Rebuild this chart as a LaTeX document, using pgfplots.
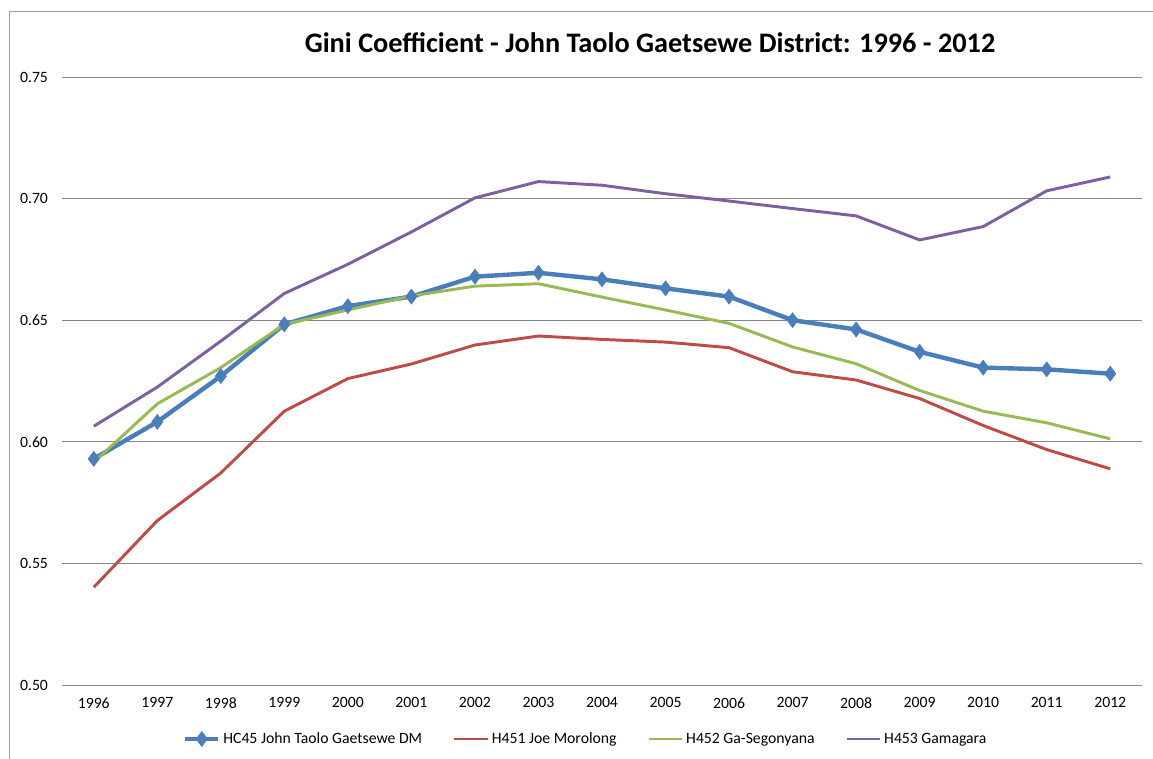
\documentclass[border=0pt]{standalone}
\usepackage{pgfplots}
\pgfplotsset{compat=1.18}
\usepackage{fontspec}
\setmainfont{Carlito}
\definecolor{cblue}{HTML}{4A7EBB}
\definecolor{cred}{HTML}{BE4B48}
\definecolor{cgreen}{HTML}{98B954}
\definecolor{cpurple}{HTML}{7D60A0}
\definecolor{cgrid}{HTML}{868686}
\begin{document}
\begin{tikzpicture}
\useasboundingbox (-46.5pt,-54.75pt) rectangle (818.25pt,513.75pt);
\draw[cgrid!80, line width=0.75pt] (-39pt,-60pt) -- (-39pt,504.75pt) -- (830pt,504.75pt);
\begin{axis}[
  scale only axis, width=810pt, height=456pt,
  xmin=-0.5, xmax=16.5, ymin=0.5, ymax=0.75,
  xtick={0,...,16},
  xticklabels={1996,1997,1998,1999,2000,2001,2002,2003,2004,2005,2006,2007,2008,2009,2010,2011,2012},
  ytick={0.5,0.55,0.6,0.65,0.7,0.75},
  yticklabel style={/pgf/number format/fixed,/pgf/number format/precision=2,/pgf/number format/fixed zerofill, xshift=-7pt},
  /pgf/number format/assume math mode=true,
  xticklabel style={yshift=-6pt},
  major tick length=0pt,
  tick label style={font=\fontsize{11.8}{14}\selectfont},
  axis line style={draw=none},
  ymajorgrids, major grid style={cgrid, line width=0.75pt},
  legend columns=4,
  legend style={draw=none, at={(393pt,-40.5pt)}, anchor=center, font=\fontsize{11.8}{14}\selectfont,
    /tikz/every odd column/.append style={column sep=0pt},
    /tikz/every even column/.append style={column sep=21pt}},
  legend image code/.code={\draw[#1] (0pt,0pt) -- (25pt,0pt); \draw[#1,mark repeat=2,mark phase=2] plot coordinates {(0pt,0pt) (12.5pt,0pt) (25pt,0pt)};},
  clip=false,
]
\addplot[cblue, line width=3.3pt, mark=diamond*, mark size=5.5pt, mark options={line width=0.6pt}] coordinates {
(0,0.593)(1,0.6082)(2,0.627)(3,0.6483)(4,0.6558)(5,0.6597)(6,0.6679)(7,0.6695)(8,0.6668)(9,0.6631)(10,0.6597)(11,0.650)(12,0.6462)(13,0.637)(14,0.6305)(15,0.6298)(16,0.628)};
\addlegendentry{HC45 John Taolo Gaetsewe DM}
\addplot[cred, line width=2.2pt, mark=none] coordinates {
(0,0.5402)(1,0.5676)(2,0.5872)(3,0.6126)(4,0.626)(5,0.632)(6,0.6398)(7,0.6435)(8,0.6421)(9,0.641)(10,0.6387)(11,0.6288)(12,0.6254)(13,0.6178)(14,0.6067)(15,0.5968)(16,0.5889)};
\addlegendentry{H451 Joe Morolong}
\addplot[cgreen, line width=2.2pt, mark=none] coordinates {
(0,0.5916)(1,0.6156)(2,0.6305)(3,0.6483)(4,0.6542)(5,0.66)(6,0.664)(7,0.665)(8,0.6595)(9,0.6542)(10,0.6487)(11,0.639)(12,0.6321)(13,0.6211)(14,0.6126)(15,0.6078)(16,0.6012)};
\addlegendentry{H452 Ga-Segonyana}
\addplot[cpurple, line width=2.2pt, mark=none] coordinates {
(0,0.6064)(1,0.6225)(2,0.6414)(3,0.661)(4,0.673)(5,0.6863)(6,0.7003)(7,0.707)(8,0.7055)(9,0.702)(10,0.699)(11,0.6959)(12,0.6929)(13,0.683)(14,0.6885)(15,0.7032)(16,0.7089)};
\addlegendentry{H453 Gamagara}
\end{axis}
\node[font=\fontsize{21.2}{25}\selectfont\bfseries] at (441pt,481.5pt) {Gini Coefficient - John Taolo Gaetsewe District: 1996 - 2012};
\end{tikzpicture}
\end{document}
